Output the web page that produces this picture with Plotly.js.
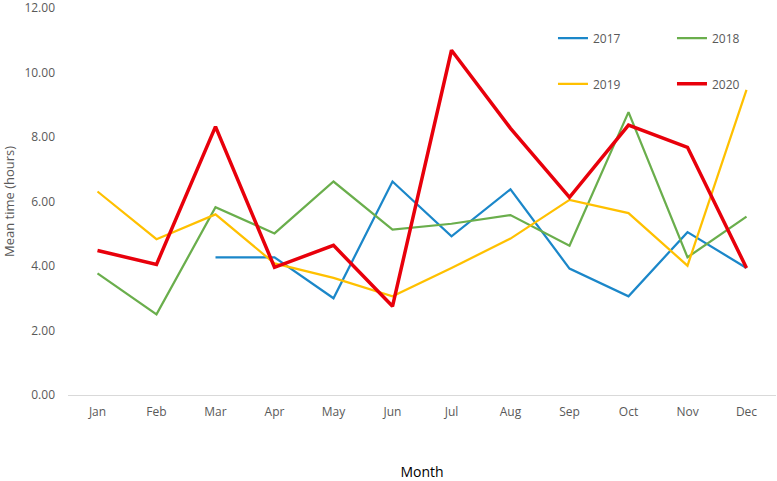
<!DOCTYPE html>
<html>
<head>
<meta charset="utf-8">
<script src="https://cdn.plot.ly/plotly-3.0.1.min.js"></script>
<style>html,body{margin:0;padding:0;background:#fff;}#chart{width:777px;height:481px;}</style>
</head>
<body>
<div id="chart"></div>
<script>
const months = ['Jan','Feb','Mar','Apr','May','Jun','Jul','Aug','Sep','Oct','Nov','Dec'];
const y2017 = [null, null, 4.27, 4.27, 3.00, 6.62, 4.92, 6.38, 3.92, 3.06, 5.05, 3.94];
const y2018 = [3.77, 2.50, 5.82, 5.01, 6.62, 5.13, 5.31, 5.58, 4.63, 8.77, 4.27, 5.53];
const y2019 = [6.31, 4.83, 5.60, 4.08, 3.63, 3.06, 3.94, 4.85, 6.05, 5.64, 4.01, 9.46];
const y2020 = [4.48, 4.05, 8.32, 3.96, 4.64, 2.75, 10.69, 8.27, 6.13, 8.37, 7.68, 3.94];
const yTicks = [0, 2, 4, 6, 8, 10, 12];

const FONT = 'Open Sans, sans-serif';
const GRAY = '#595959';

const traces = [
  {x: months, y: y2017, name: '2017', mode: 'lines', line: {color: '#1b87c9', width: 2.25}, legend: 'legend', connectgaps: false},
  {x: months, y: y2018, name: '2018', mode: 'lines', line: {color: '#6aae4c', width: 2.25}, legend: 'legend'},
  {x: months, y: y2019, name: '2019', mode: 'lines', line: {color: '#ffc000', width: 2.25}, legend: 'legend2'},
  {x: months, y: y2020, name: '2020', mode: 'lines', line: {color: '#e8000b', width: 3.5}, legend: 'legend2'}
];

const legendCommon = {
  orientation: 'h', xanchor: 'left', yanchor: 'middle', entrywidth: 74, entrywidthmode: 'pixels',
  font: {family: FONT, size: 12, color: GRAY}, bgcolor: 'rgba(0,0,0,0)', itemwidth: 30, tracegroupgap: 0
};

const layout = {
  width: 777, height: 481,
  margin: {l: 68, r: 1, t: 8, b: 86, autoexpand: false},
  paper_bgcolor: '#ffffff', plot_bgcolor: '#ffffff',
  showlegend: true,
  xaxis: {
    type: 'category', range: [-0.5, 11.5], showgrid: false, zeroline: false,
    showline: false, ticks: '', ticklabelstandoff: 8,
    tickfont: {family: FONT, size: 12, color: GRAY},
    title: {text: 'Month', font: {family: FONT, size: 14, color: '#000000'}, standoff: 50}
  },
  yaxis: {
    range: [0, 12], tickvals: yTicks, ticktext: yTicks.map(v => v.toFixed(2)),
    showgrid: false, zeroline: true, zerolinecolor: '#d9d9d9', zerolinewidth: 1,
    showline: false, ticks: '', ticklabelstandoff: 12, ticklabeloverflow: 'allow',
    tickfont: {family: FONT, size: 12, color: GRAY},
    title: {text: 'Mean time (hours)', font: {family: FONT, size: 13, color: GRAY}, standoff: 10}
  },
  legend: Object.assign({}, legendCommon, {x: 0.685, y: 0.922}),
  legend2: Object.assign({}, legendCommon, {x: 0.685, y: 0.804})
};

Plotly.newPlot('chart', traces, layout, {displayModeBar: false, staticPlot: true});
</script>
</body>
</html>
